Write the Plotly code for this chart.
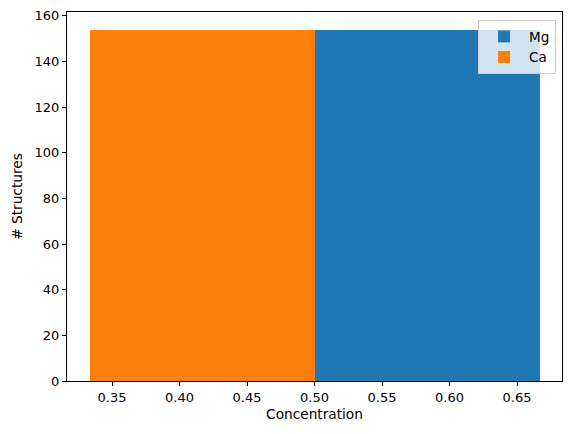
import plotly.graph_objects as go

# Histogram data
series = ["Mg", "Ca"]
bin_left = [0.5, 1/3]
bin_right = [2/3, 0.5]
counts = [154, 154]
colors = ["#1f77b4", "#ff7f0e"]

x_ticks = [0.35, 0.40, 0.45, 0.50, 0.55, 0.60, 0.65]
y_ticks = [0, 20, 40, 60, 80, 100, 120, 140, 160]

fig = go.Figure()
for name, l, r, c, col in zip(series, bin_left, bin_right, counts, colors):
    fig.add_trace(go.Bar(
        x=[(l + r) / 2], y=[c], width=[r - l], name=name,
        marker=dict(color=col, line=dict(width=0)),
    ))

xmin, xmax = min(bin_left), max(bin_right)
pad = (xmax - xmin) * 0.05
ymax = max(counts) * 1.05

axis_common = dict(
    showline=True, linecolor="black", linewidth=1, mirror=True,
    ticks="outside", ticklen=4, tickwidth=1, tickcolor="black",
    showgrid=False, zeroline=False,
    tickfont=dict(family="DejaVu Sans", size=13, color="black"),
)
title_font = dict(family="DejaVu Sans", size=13.7, color="black")

fig.update_layout(
    width=571, height=434,
    margin=dict(l=67, r=9, t=12, b=53),
    plot_bgcolor="white", paper_bgcolor="white",
    barmode="overlay", bargap=0,
    font=dict(family="DejaVu Sans", size=13, color="black"),
    xaxis=dict(range=[xmin - pad, xmax + pad], tickvals=x_ticks,
               ticktext=[f"{v:.2f}" for v in x_ticks],
               title=dict(text="Concentration", standoff=5, font=title_font),
               **axis_common),
    yaxis=dict(range=[0, ymax], tickvals=y_ticks,
               title=dict(text="# Structures", standoff=8, font=title_font),
               **axis_common),
    legend=dict(x=0.988, y=0.978, xanchor="right", yanchor="top",
                bgcolor="rgba(255,255,255,0.8)", bordercolor="#cccccc",
                borderwidth=1, font=dict(size=13.5), traceorder="normal",
                itemwidth=40),
)

fig.write_html("out.html")
